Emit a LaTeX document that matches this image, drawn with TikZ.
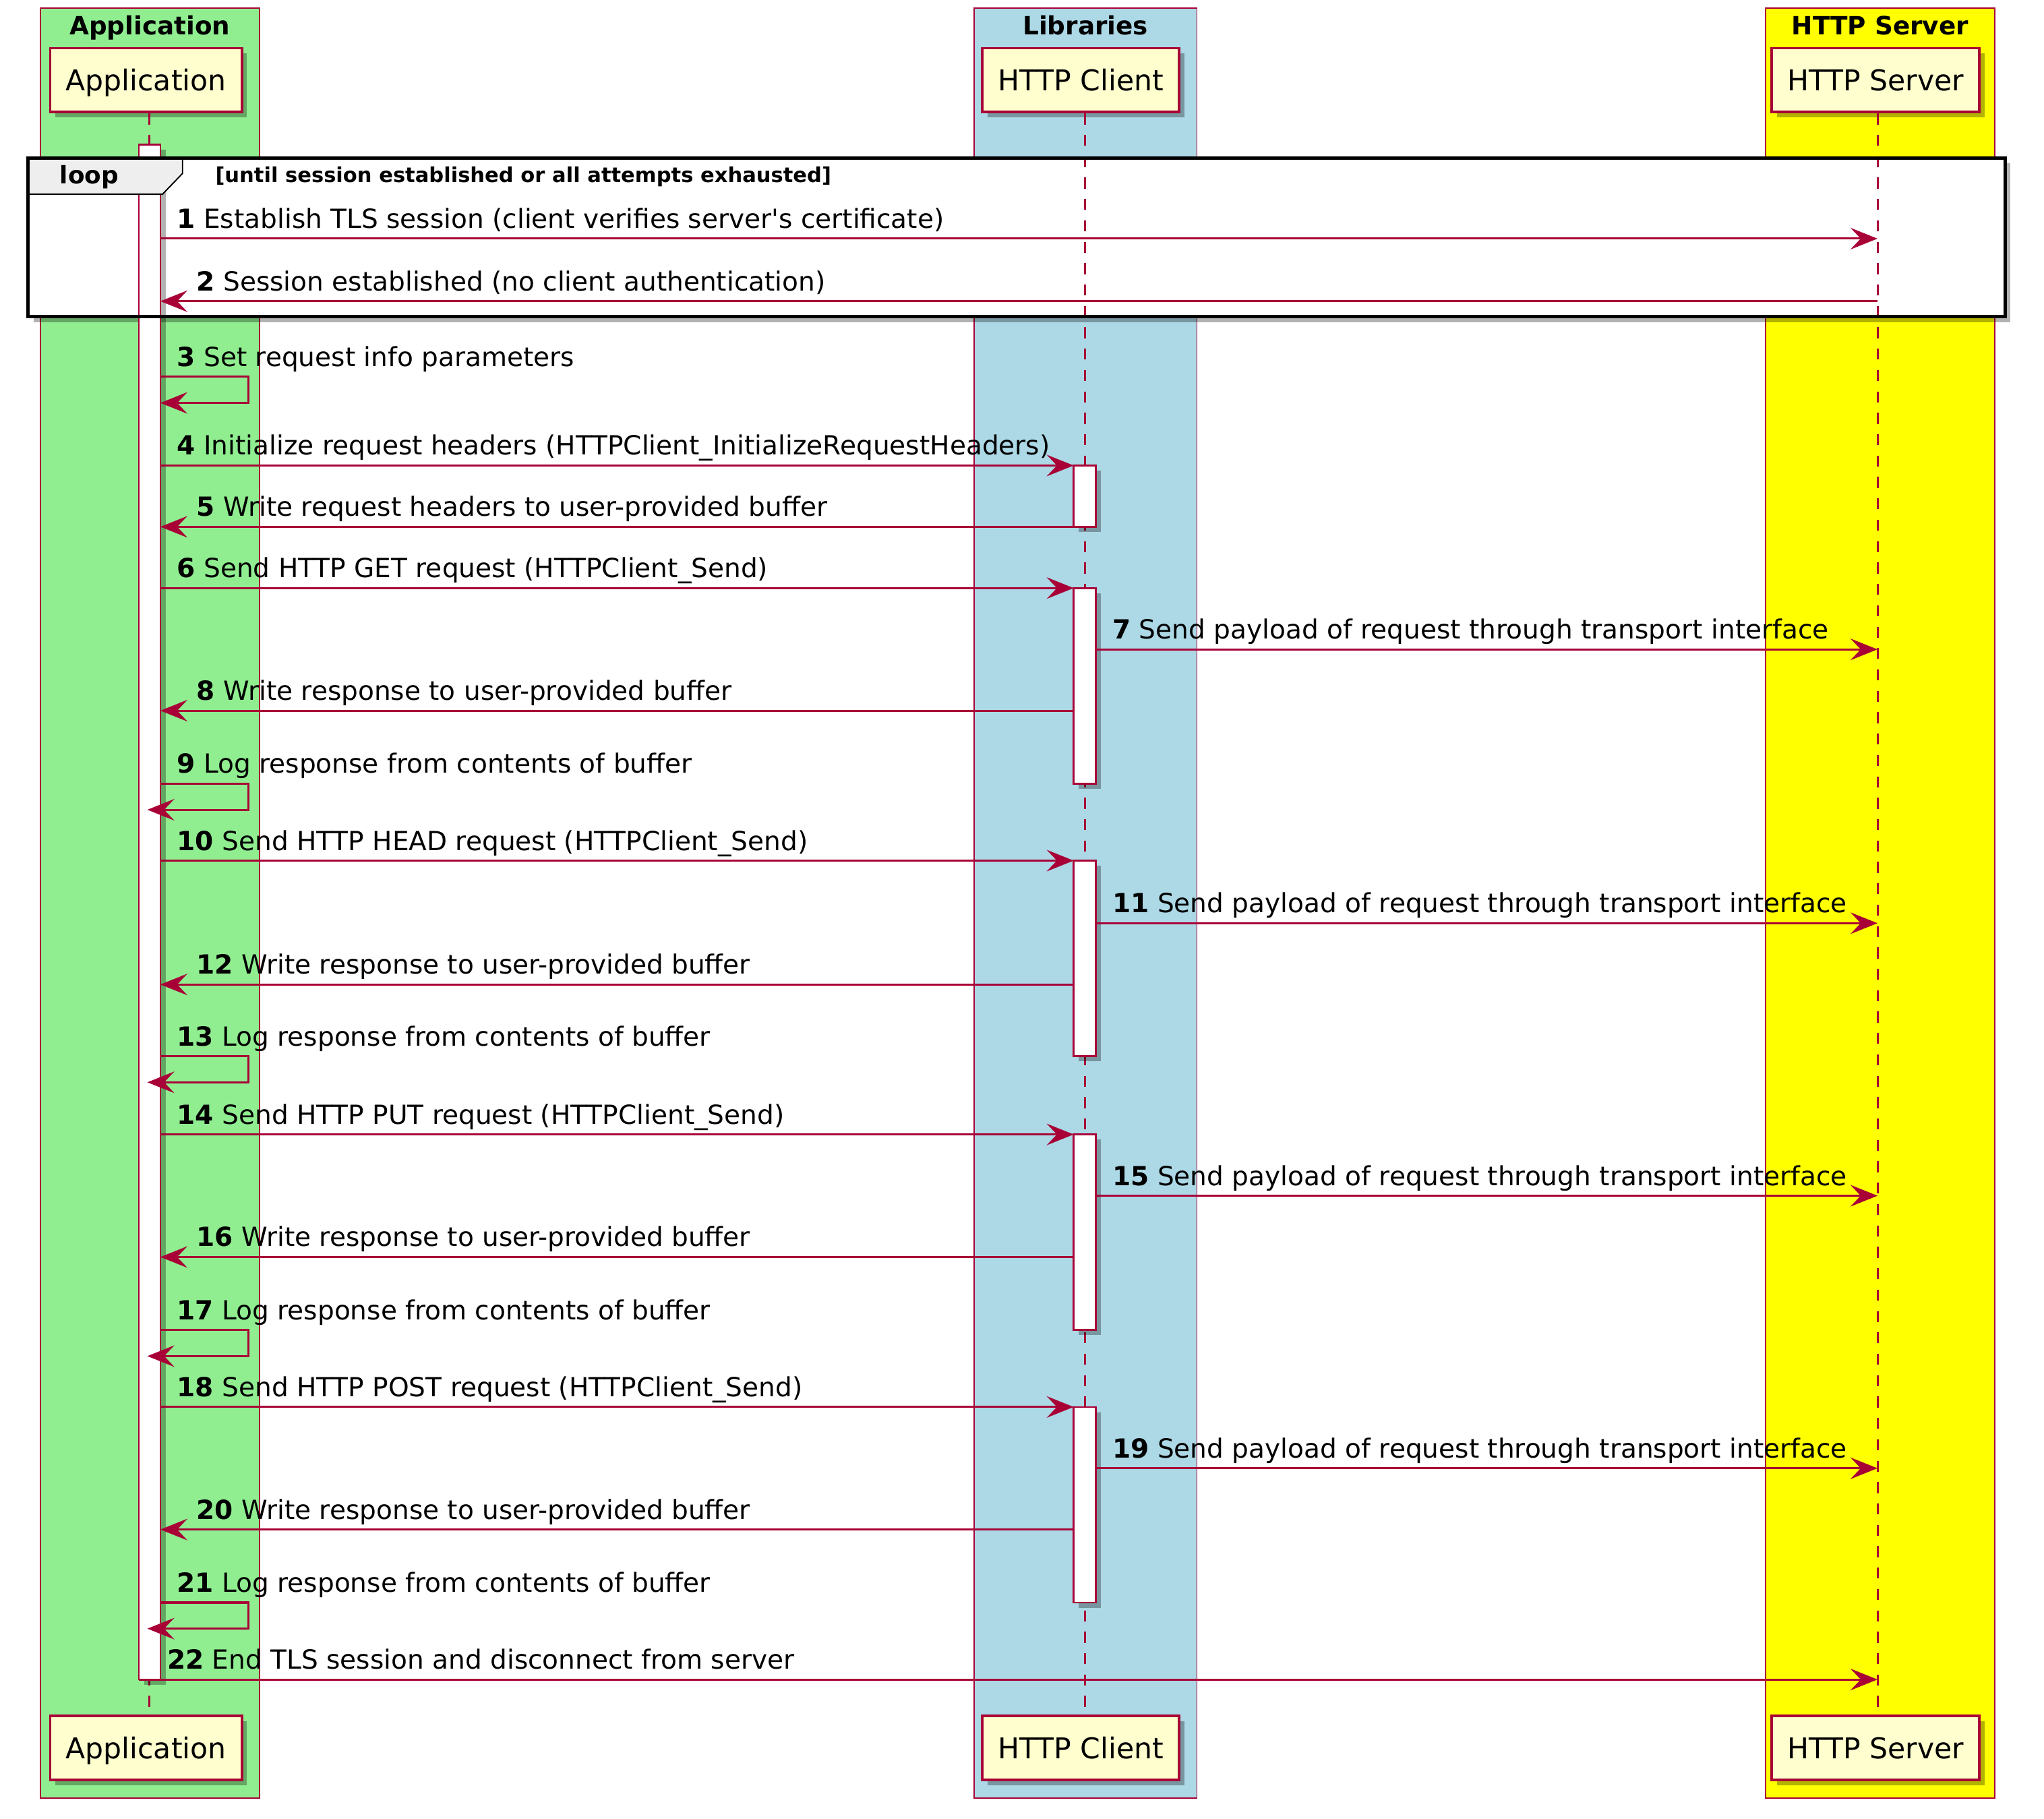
\documentclass[tikz,border=0pt]{standalone}
\usepackage{fontspec}
\setmainfont{DejaVu Sans}[Ligatures=TeXOff]
\usetikzlibrary{arrows.meta, shadows}
\definecolor{umlred}{HTML}{A80036}
\definecolor{umlfill}{HTML}{FEFECE}
\definecolor{appgreen}{HTML}{90EE90}
\definecolor{libblue}{HTML}{ADD8E6}
\definecolor{srvyellow}{HTML}{FFFF00}
\definecolor{loopgray}{HTML}{EEEEEE}
\tikzstyle{shade} = [drop shadow={shadow xshift=4pt, shadow yshift=-4pt, fill=black, opacity=0.3}]
\tikzstyle{grp} = [draw=umlred, line width=1pt]
\tikzstyle{grptitle} = [anchor=base, inner sep=0pt, font=\bfseries\fontsize{19.3}{23}\selectfont]
\tikzstyle{actor} = [rectangle, draw=umlred, line width=2pt, fill=umlfill, minimum height=49pt, inner xsep=12pt, text height=16pt, text depth=0pt, font=\fontsize{22}{26}\selectfont, shade]
\tikzstyle{lifeline} = [draw=umlred, line width=1.5pt, dash pattern=on 8.4pt off 8pt]
\tikzstyle{activ} = [draw=umlred, fill=white, line width=1.4pt, shade]
\tikzstyle{msg} = [draw=umlred, line width=1.6pt, -{Stealth[length=20.7pt, width=16.5pt, inset=7.8pt]}]
\tikzstyle{lbl} = [anchor=base west, inner sep=0pt, font=\fontsize{20.2}{24}\selectfont]

\begin{document}
\begin{tikzpicture}[x=1pt, y=-1pt]
	\fill[white] (0,0) rectangle (1567.7,1395);
	\useasboundingbox (0,0) rectangle (1567.7,1395);
	% boxes of the three groups
	\draw[grp, fill=appgreen] (31,6) rectangle (199,1379);
	\draw[grp, fill=libblue] (747,6) rectangle (918,1379);
	\draw[grp, fill=srvyellow] (1354,6) rectangle (1530,1379);
	\node (appgrp) [grptitle] at (115,26.7) {Application};
	\node (libgrp) [grptitle] at (832.5,26.7) {Libraries};
	\node (srvgrp) [grptitle] at (1442,26.7) {HTTP Server};
	% loop background
	\fill[white, shade] (21.7,121) rectangle (1538,243);
	% participants
	\node (app) [actor] at (112,61.5) {Application};
	\node (cli) [actor] at (829,61.5) {HTTP Client};
	\node (srv) [actor] at (1438.5,61.5) {HTTP Server};
	\node (appB) [actor] at (112,1340.5) {Application};
	\node (cliB) [actor] at (829,1340.5) {HTTP Client};
	\node (srvB) [actor] at (1438.5,1340.5) {HTTP Server};
	\coordinate (appL) at (106.5,0);
	\coordinate (appX) at (114.5,0);
	\coordinate (appR) at (123,0);
	\coordinate (cliL) at (823.5,0);
	\coordinate (cliX) at (832,0);
	\coordinate (cliR) at (840.5,0);
	\coordinate (srvX) at (1440,0);
	\draw[lifeline] (appX |- app.south) -- (appX |- appB.north);
	\draw[lifeline] (cliX |- cli.south) -- (cliX |- cliB.north);
	\draw[lifeline] (srvX |- srv.south) -- (srvX |- srvB.north);
	% message rows
	\coordinate (ab) at (0,111);
	\coordinate (r1) at (0,183);  \coordinate (r2) at (0,231);  \coordinate (r3) at (0,289);
	\coordinate (r4) at (0,357);  \coordinate (r5) at (0,404);  \coordinate (r6) at (0,451);
	\coordinate (r7) at (0,498);  \coordinate (r8) at (0,545);  \coordinate (r9) at (0,601);
	\coordinate (r10) at (0,660); \coordinate (r11) at (0,708); \coordinate (r12) at (0,755);
	\coordinate (r13) at (0,810); \coordinate (r14) at (0,870); \coordinate (r15) at (0,917);
	\coordinate (r16) at (0,964); \coordinate (r17) at (0,1020); \coordinate (r18) at (0,1079);
	\coordinate (r19) at (0,1126); \coordinate (r20) at (0,1173); \coordinate (r21) at (0,1229);
	\coordinate (r22) at (0,1288);
	% activations
	\draw[activ] (appL |- ab) rectangle (appR |- r22);
	\draw[activ] (cliL |- r4) rectangle (cliR |- r5);
	\draw[activ] (cliL |- r6) rectangle (cliR |- r9);
	\draw[activ] (cliL |- r10) rectangle (cliR |- r13);
	\draw[activ] (cliL |- r14) rectangle (cliR |- r17);
	\draw[activ] (cliL |- r18) rectangle (cliR |- r21);
	% messages
	\draw[msg] (appR |- r1) -- (srvX |- r1) node[lbl, at start, xshift=12pt, yshift=8pt] {\textbf{1} Establish TLS session (client verifies server's certificate)};
	\draw[msg] (srvX |- r2) -- (appR |- r2) node[lbl, at end, xshift=27pt, yshift=8pt] {\textbf{2} Session established (no client authentication)};
	\draw[msg] (appR |- r3) -- ++(67.5,0) node[lbl, at start, xshift=12pt, yshift=8pt] {\textbf{3} Set request info parameters} -- ++(0,20) -- ++(-67.5,0);
	\draw[msg] (appR |- r4) -- (cliL |- r4) node[lbl, at start, xshift=12pt, yshift=8pt] {\textbf{4} Initialize request headers (HTTPClient\_InitializeRequestHeaders)};
	\draw[msg] (cliL |- r5) -- (appR |- r5) node[lbl, at end, xshift=27pt, yshift=8pt] {\textbf{5} Write request headers to user-provided buffer};
	\draw[msg] (appR |- r6) -- (cliL |- r6) node[lbl, at start, xshift=12pt, yshift=8pt] {\textbf{6} Send HTTP GET request (HTTPClient\_Send)};
	\draw[msg] (cliR |- r7) -- (srvX |- r7) node[lbl, at start, xshift=12pt, yshift=8pt] {\textbf{7} Send payload of request through transport interface};
	\draw[msg] (cliL |- r8) -- (appR |- r8) node[lbl, at end, xshift=27pt, yshift=8pt] {\textbf{8} Write response to user-provided buffer};
	\draw[msg] (appR |- r9) -- ++(67.5,0) node[lbl, at start, xshift=12pt, yshift=8pt] {\textbf{9} Log response from contents of buffer} -- ++(0,20) -- ++(-77.5,0);
	\draw[msg] (appR |- r10) -- (cliL |- r10) node[lbl, at start, xshift=12pt, yshift=8pt] {\textbf{10} Send HTTP HEAD request (HTTPClient\_Send)};
	\draw[msg] (cliR |- r11) -- (srvX |- r11) node[lbl, at start, xshift=12pt, yshift=8pt] {\textbf{11} Send payload of request through transport interface};
	\draw[msg] (cliL |- r12) -- (appR |- r12) node[lbl, at end, xshift=27pt, yshift=8pt] {\textbf{12} Write response to user-provided buffer};
	\draw[msg] (appR |- r13) -- ++(67.5,0) node[lbl, at start, xshift=12pt, yshift=8pt] {\textbf{13} Log response from contents of buffer} -- ++(0,20) -- ++(-77.5,0);
	\draw[msg] (appR |- r14) -- (cliL |- r14) node[lbl, at start, xshift=12pt, yshift=8pt] {\textbf{14} Send HTTP PUT request (HTTPClient\_Send)};
	\draw[msg] (cliR |- r15) -- (srvX |- r15) node[lbl, at start, xshift=12pt, yshift=8pt] {\textbf{15} Send payload of request through transport interface};
	\draw[msg] (cliL |- r16) -- (appR |- r16) node[lbl, at end, xshift=27pt, yshift=8pt] {\textbf{16} Write response to user-provided buffer};
	\draw[msg] (appR |- r17) -- ++(67.5,0) node[lbl, at start, xshift=12pt, yshift=8pt] {\textbf{17} Log response from contents of buffer} -- ++(0,20) -- ++(-77.5,0);
	\draw[msg] (appR |- r18) -- (cliL |- r18) node[lbl, at start, xshift=12pt, yshift=8pt] {\textbf{18} Send HTTP POST request (HTTPClient\_Send)};
	\draw[msg] (cliR |- r19) -- (srvX |- r19) node[lbl, at start, xshift=12pt, yshift=8pt] {\textbf{19} Send payload of request through transport interface};
	\draw[msg] (cliL |- r20) -- (appR |- r20) node[lbl, at end, xshift=27pt, yshift=8pt] {\textbf{20} Write response to user-provided buffer};
	\draw[msg] (appR |- r21) -- ++(67.5,0) node[lbl, at start, xshift=12pt, yshift=8pt] {\textbf{21} Log response from contents of buffer} -- ++(0,20) -- ++(-77.5,0);
	\draw[msg] (appL |- r22) -- (srvX |- r22) node[lbl, at start, xshift=21pt, yshift=8pt] {\textbf{22} End TLS session and disconnect from server};
	% loop frame
	\draw[fill=loopgray, line width=1pt] (21.7,121) -- (140,121) -- (140,133) -- (124.6,149) -- (21.7,149) -- cycle;
	\draw[line width=2.6pt] (21.7,121) rectangle (1538,243);
	\node (looptag) [anchor=base, inner sep=0pt, font=\bfseries\fontsize{18.5}{22}\selectfont] at (68.5,141) {loop};
	\node (loopcond) [anchor=base west, inner sep=0pt, font=\bfseries\fontsize{15.8}{19}\selectfont] at (165,140) {[until session established or all attempts exhausted]};
\end{tikzpicture}
\end{document}
